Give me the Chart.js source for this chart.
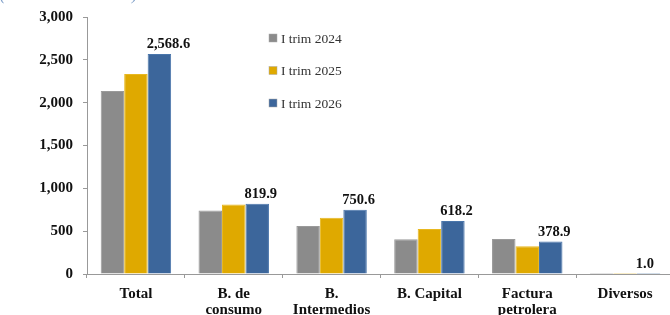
<!DOCTYPE html>
<html>
<head>
<meta charset="utf-8">
<script src="https://cdn.jsdelivr.net/npm/chart.js@4/dist/chart.umd.min.js"></script>
<style>
html,body{margin:0;padding:0;background:#fff;overflow:hidden;}
#wrap{position:relative;width:670px;height:315px;overflow:hidden;}
#unit{position:absolute;left:0;top:-14px;font:italic 16px "Liberation Serif",serif;color:#7f9fc9;white-space:nowrap;}
canvas{position:absolute;left:0;top:0;}
</style>
</head>
<body>
<div id="wrap">
<canvas id="c" width="674" height="315"></canvas>
<div id="unit">(Millones de dólares)</div>
</div>
<script>
const categories = [["Total"], ["B. de", "consumo"], ["B.", "Intermedios"], ["B. Capital"], ["Factura", "petrolera"], ["Diversos"]];
const seriesNames = ["I trim 2024", "I trim 2025", "I trim 2026"];
const trim2024 = [2135, 740, 561, 405, 409, 1.0];
const trim2025 = [2334, 810, 658, 526, 324, 1.0];
const trim2026 = [2568.6, 819.9, 750.6, 618.2, 378.9, 1.0];
const yTicks = [0, 500, 1000, 1500, 2000, 2500, 3000];
const colors = ["#8b8b8b", "#dfa900", "#3c669b"];
const borders = ["#9a9a9a", "#e8b820", "#4a76ab"];

const fontFam = '"Liberation Serif", "Times New Roman", serif';

const labelPlugin = {
  id: 'valueLabels',
  afterDatasetsDraw(chart) {
    const ctx = chart.ctx;
    const meta = chart.getDatasetMeta(2);
    ctx.save();
    ctx.font = 'bold 14.5px ' + fontFam;
    ctx.fillStyle = '#111';
    ctx.textAlign = 'left';
    ctx.textBaseline = 'alphabetic';
    meta.data.forEach((bar, i) => {
      const v = trim2026[i];
      const txt = v.toLocaleString('en-US', {minimumFractionDigits: 1, maximumFractionDigits: 1});
      ctx.fillText(txt, bar.x - bar.width / 2 - 1, bar.y - 6);
    });
    ctx.restore();
  }
};

const legendPlugin = {
  id: 'customLegend',
  afterDraw(chart) {
    const ctx = chart.ctx;
    ctx.save();
    ctx.font = '13.5px ' + fontFam;
    ctx.textBaseline = 'middle';
    ctx.textAlign = 'left';
    chart.data.datasets.forEach((ds, i) => {
      const y = 38 + i * 32.5;
      const x = 269;
      ctx.fillStyle = ds.backgroundColor;
      ctx.fillRect(x, y - 4, 8, 8);
      ctx.strokeStyle = '#aaa';
      ctx.lineWidth = 0.5;
      ctx.strokeRect(x, y - 4, 8, 8);
      ctx.fillStyle = '#333';
      ctx.fillText(ds.label, x + 12, y + 1);
    });
    ctx.restore();
  }
};

new Chart(document.getElementById('c'), {
  type: 'bar',
  data: {
    labels: categories,
    datasets: [
      {label: seriesNames[0], data: trim2024, backgroundColor: colors[0], borderColor: borders[0], borderWidth: 1},
      {label: seriesNames[1], data: trim2025, backgroundColor: colors[1], borderColor: borders[1], borderWidth: 1},
      {label: seriesNames[2], data: trim2026, backgroundColor: colors[2], borderColor: borders[2], borderWidth: 1}
    ]
  },
  options: {
    responsive: false,
    animation: false,
    layout: {padding: {top: 17, right: 0, left: 0, bottom: 0}},
    datasets: {bar: {categoryPercentage: 0.72, barPercentage: 1.0}},
    plugins: {legend: {display: false}, tooltip: {enabled: false}},
    scales: {
      x: {
        grid: {display: true, offset: true, drawOnChartArea: false, tickLength: 4, color: '#999'},
        border: {color: '#999'},
        ticks: {color: '#111', font: {family: fontFam, size: 15, weight: 'bold', lineHeight: 1.05}, padding: 8, maxRotation: 0, autoSkip: false},
        afterFit(s) { s.height = 41; }
      },
      y: {
        min: 0, max: 3000,
        afterBuildTicks(s) { s.ticks = yTicks.map(v => ({value: v})); },
        grid: {display: true, drawOnChartArea: false, tickLength: 4, color: '#999'},
        border: {color: '#999'},
        ticks: {color: '#111', font: {family: fontFam, size: 15, weight: 'bold'}, padding: 10,
          callback: v => v.toLocaleString('en-US')},
        afterFit(s) { s.width = 87; s.paddingTop = 0; s.paddingBottom = 0; }
      }
    }
  },
  plugins: [labelPlugin, legendPlugin]
});
</script>
</body>
</html>
